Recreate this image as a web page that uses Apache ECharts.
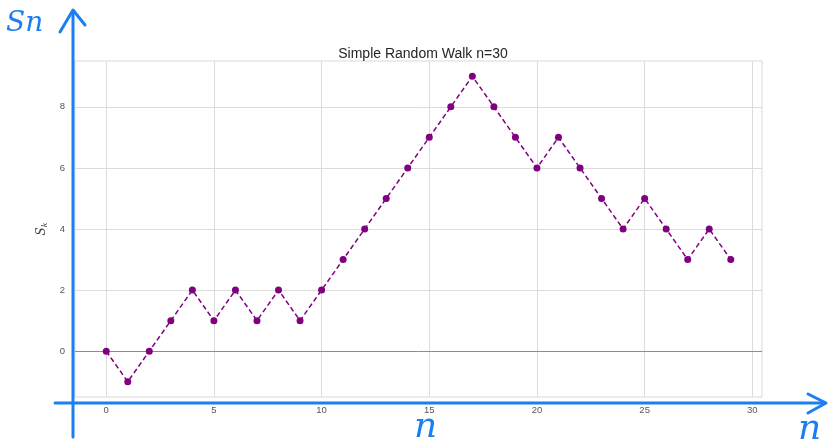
<!DOCTYPE html>
<html>
<head>
<meta charset="utf-8">
<script src="https://cdn.jsdelivr.net/npm/echarts@6/dist/echarts.min.js"></script>
<style>html,body{margin:0;padding:0;background:#fff}#c{width:829px;height:441px}</style>
</head>
<body>
<div id="c"></div>
<script>
var steps = [0,1,2,3,4,5,6,7,8,9,10,11,12,13,14,15,16,17,18,19,20,21,22,23,24,25,26,27,28,29];
var walk = [0,-1,0,1,2,1,2,1,2,1,2,3,4,5,6,7,8,9,8,7,6,7,6,5,4,5,4,3,4,3];
var xTicks = [0,5,10,15,20,25,30];
var yTicks = [0,2,4,6,8];
var titleText = 'Simple Random Walk n=30';

var chart = echarts.init(document.getElementById('c'), null, {renderer:'canvas'});
var pts = steps.map(function(s,i){return [s, walk[i]];});
var blue = '#1a7ff2';
var gridMarks = xTicks.map(function(v){return {xAxis:v};}).concat(
  yTicks.filter(function(v){return v!==0;}).map(function(v){return {yAxis:v};}));

chart.setOption({
  animation:false,
  backgroundColor:'#fff',
  title:{text:titleText, left:418, top:42, textAlign:'center',
    textStyle:{fontFamily:'Liberation Sans, Arial', fontSize:14, fontWeight:'normal', color:'#262626'}},
  grid:{left:75, right:67, top:61, bottom:44, show:true, borderColor:'#d9d9d9', borderWidth:1, backgroundColor:'#fff'},
  xAxis:{type:'value', min:-1.45, max:30.45,
    axisLine:{show:false}, axisTick:{show:false}, splitLine:{show:false},
    axisLabel:{customValues:xTicks, margin:8, fontSize:9.5, color:'#555', fontFamily:'Liberation Sans, Arial'}},
  yAxis:{type:'value', min:-1.5, max:9.5,
    axisLine:{show:false}, axisTick:{show:false}, splitLine:{show:false},
    axisLabel:{customValues:yTicks, margin:10, fontSize:9.5, color:'#555', fontFamily:'Liberation Sans, Arial'},
    name:'{s|S}{k|k}', nameLocation:'middle', nameGap:24, nameRotate:90,
    nameTextStyle:{rich:{s:{fontSize:12, color:'#444', fontStyle:'italic', fontFamily:'DejaVu Serif'},
      k:{fontSize:8, color:'#444', fontStyle:'italic', fontFamily:'DejaVu Serif', padding:[6,0,0,0]}}}},
  series:[
    {type:'line', data:pts, z:1, showSymbol:false, silent:true,
     lineStyle:{opacity:0},
     markLine:{z:1, silent:true, symbol:'none', animation:false, label:{show:false},
       lineStyle:{color:'#dcdcdc', type:'solid', width:1},
       data:gridMarks}},
    {type:'line', data:pts, z:1, showSymbol:false, silent:true,
     lineStyle:{opacity:0},
     markLine:{z:1, silent:true, symbol:'none', animation:false, label:{show:false},
       lineStyle:{color:'#8c8c8c', type:'solid', width:1},
       data:[{yAxis:0}]}},
    {type:'line', data:pts, z:10, symbol:'circle', symbolSize:7,
     itemStyle:{color:'#800080'},
     lineStyle:{color:'#800080', width:1.5, type:[5,3]}}
  ],
  graphic:[
    {type:'polyline', z:100, shape:{points:[[73,437],[73,11]]}, style:{stroke:blue, lineWidth:3, fill:null, lineCap:'round'}},
    {type:'polyline', z:100, shape:{points:[[60,32],[73,10],[85,25]]}, style:{stroke:blue, lineWidth:3, fill:null, lineCap:'round', lineJoin:'round'}},
    {type:'polyline', z:100, shape:{points:[[55,403],[825,403]]}, style:{stroke:blue, lineWidth:3, fill:null, lineCap:'round'}},
    {type:'polyline', z:100, shape:{points:[[808,394],[826,403],[808,413]]}, style:{stroke:blue, lineWidth:3, fill:null, lineCap:'round', lineJoin:'round'}},
    {type:'text', z:100, left:6, top:10, style:{text:'Sn', fill:blue, font:'italic 28px "DejaVu Serif"'}},
    {type:'text', z:100, left:414, top:410, style:{text:'n', fill:blue, font:'italic 36px "DejaVu Serif"'}},
    {type:'text', z:100, left:798, top:412, style:{text:'n', fill:blue, font:'italic 36px "DejaVu Serif"'}}
  ]
});
</script>
</body>
</html>
